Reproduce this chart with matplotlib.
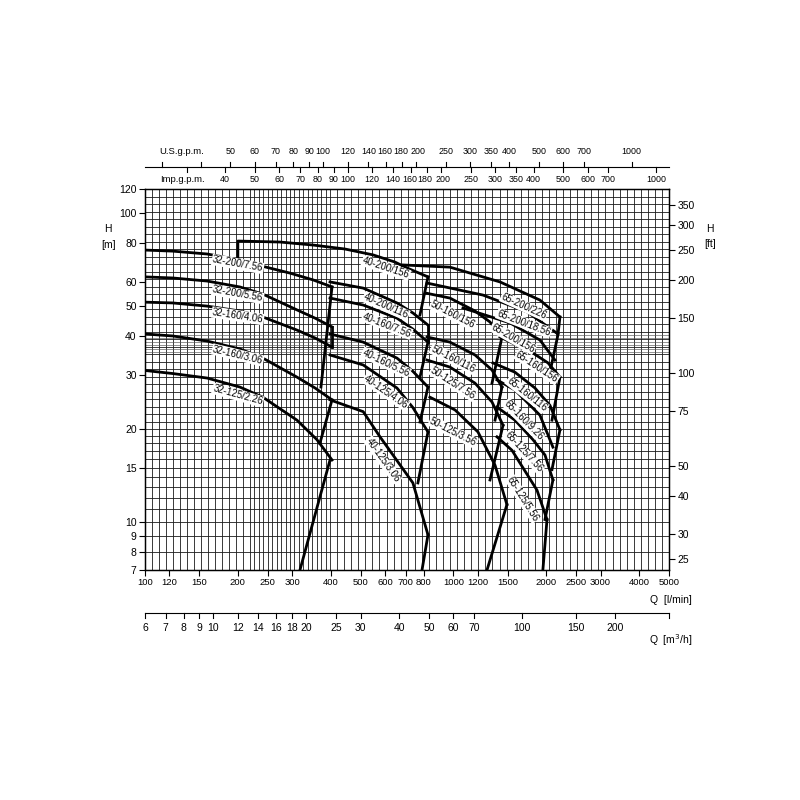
import numpy as np
import matplotlib.pyplot as plt
from matplotlib.ticker import NullLocator
from matplotlib.transforms import ScaledTranslation

plt.rcParams['font.family'] = ['Liberation Sans', 'DejaVu Sans']

# pump curves, Q in l/min, H in m
names32 = ["32-200/7.56", "32-200/5.56", "32-160/4.06", "32-160/3.06", "32-125/2.26"]
q32 = [[100, 123, 159, 203, 241, 295, 351, 404],
       [100, 123, 159, 203, 241, 311, 356, 404],
       [100, 123, 159, 203, 241, 311, 356, 404],
       [100, 123, 159, 203, 241, 311, 356, 404],
       [100, 123, 159, 203, 241, 311, 361, 404]]
h32 = [[76.1, 75.5, 73.9, 70.7, 67.4, 64.1, 60.9, 57.8],
       [62.3, 61.8, 60.4, 57.8, 54.8, 48.7, 45.8, 42.9],
       [51.6, 51.3, 50.1, 48.3, 46.2, 41.9, 39.5, 36.9],
       [40.7, 40.1, 38.6, 36.4, 34.0, 29.5, 27.2, 24.9],
       [31.0, 30.3, 29.3, 27.4, 25.4, 21.4, 18.5, 15.9]]

names40 = ["40-200/156", "40-200/116", "40-160/7.56", "40-160/5.56", "40-125/4.06", "40-125/3.06"]
q40 = [[200, 200, 274, 351, 445, 549, 646, 707, 827],
       [398, 510, 656, 739, 827],
       [398, 510, 656, 739, 827],
       [398, 510, 656, 739, 827],
       [398, 510, 656, 739, 827],
       [398, 510, 578, 739, 827]]
h40 = [[71.0, 81.4, 80.8, 79.0, 76.7, 73.4, 69.6, 66.6, 62.3],
       [60.0, 57.3, 51.3, 47.6, 43.5],
       [53.2, 50.5, 45.8, 42.2, 38.3],
       [40.7, 38.3, 34.0, 30.8, 27.4],
       [34.8, 32.3, 27.2, 23.5, 19.6],
       [24.9, 22.8, 18.9, 13.4, 9.1]]

names50 = ["50-160/156", "50-160/116", "50-125/7.56", "50-125/3.56"]
q50 = [[815, 974, 1175, 1314, 1437],
       [821, 974, 1175, 1334, 1437],
       [821, 974, 1175, 1334, 1448],
       [839, 1012, 1201, 1364, 1491]]
h50 = [[55.2, 53.2, 48.3, 44.5, 39.8],
       [39.8, 38.3, 34.8, 31.1, 27.4],
       [33.5, 31.8, 28.2, 24.5, 20.6],
       [25.4, 23.1, 19.6, 15.3, 11.4]]

names65 = ["65-200/226", "65-200/18.56", "65-200/156", "65-160/156",
           "65-160/116", "65-160/9.26", "65-125/7.56", "65-125/5.56"]
q65 = [[686, 974, 1416, 1908, 2215],
       [821, 1247, 1732, 2182],
       [1074, 1525, 1908, 2134],
       [1416, 1811, 2026, 2215],
       [1343, 1583, 1838, 2056, 2215],
       [1384, 1583, 1908, 2102],
       [1384, 1583, 1811, 1981, 2102],
       [1384, 1548, 1866, 2011]]
h65 = [[68.1, 67.0, 60.0, 52.4, 46.2],
       [59.5, 54.4, 48.0, 40.7],
       [49.4, 44.2, 38.9, 33.5],
       [39.8, 35.3, 32.8, 29.5],
       [32.8, 30.6, 27.2, 23.9, 19.9],
       [28.9, 26.8, 22.2, 17.5],
       [23.6, 21.4, 18.5, 16.5, 13.7],
       [18.9, 17.1, 12.7, 10.2]]

# boundary lines between the ranges
edge_q = [[404, 372], [404, 404], [404, 369], [398, 318],
          [827, 779], [827, 827], [827, 779], [827, 779], [827, 767], [827, 791],
          [1437, 1334], [1437, 1364], [1448, 1314], [1491, 1285],
          [2215, 2182, 2056], [2215, 2087], [2215, 2087], [2102, 1981], [2011, 1950]]
edge_h = [[57.8, 27.4], [42.9, 36.9], [24.9, 18.0], [15.9, 7.0],
          [62.3, 46.9], [43.5, 38.3], [38.3, 29.5], [27.4, 21.1], [19.6, 13.4], [9.1, 7.0],
          [39.8, 28.2], [27.4, 21.4], [20.6, 13.7], [11.4, 7.0],
          [46.2, 40.4, 30.6], [29.5, 21.4], [19.9, 14.8], [13.7, 10.2], [10.2, 7.0]]

# label anchors
lab32_q = [200, 200, 200, 200, 200]
lab32_h = [68.6, 54.8, 46.6, 34.8, 25.8]
lab40_q = [604, 604, 609, 604, 604, 591]
lab40_h = [66.6, 50.1, 43.5, 32.8, 26.4, 15.9]
lab50_q = [997, 997, 997, 997]
lab50_h = [46.9, 33.8, 28.2, 19.6]
lab65_q = [1693, 1693, 1560, 1866, 1732, 1693, 1693, 1681]
lab65_h = [50.1, 44.2, 39.5, 31.8, 26.0, 21.4, 16.9, 11.9]

q_ticks = [100, 120, 150, 200, 250, 300, 400, 500, 600, 700, 800, 1000, 1200, 1500,
           2000, 2500, 3000, 4000, 5000]
h_ticks = [7, 8, 9, 10, 15, 20, 30, 40, 50, 60, 80, 100, 120]
ft_ticks = [25, 30, 40, 50, 75, 100, 150, 200, 250, 300, 350]
us_ticks = [30, 40, 50, 60, 70, 80, 90, 100, 120, 140, 160, 180, 200, 250, 300, 350,
            400, 500, 600, 700, 1000]
imp_ticks = [30, 40, 50, 60, 70, 80, 90, 100, 120, 140, 160, 180, 200, 250, 300, 350,
             400, 500, 600, 700, 1000]
m3h_ticks = [6, 7, 8, 9, 10, 12, 14, 16, 18, 20, 25, 30, 40, 50, 60, 70, 100, 150, 200, 300]

L_US = 3.78541
L_IMP = 4.54609
M_FT = 3.28084
FS = 7.5
FS_SMALL = 6.8
FS_TOP = 6.4
nudge = {160: -1.0, 180: -1.5, 200: 2.0}  # px, keeps crowded top labels apart

fig = plt.figure(figsize=(8, 8), dpi=100)
ax = fig.add_axes([145 / 800, 1 - 570 / 800, 524 / 800, 381 / 800])
ax.set_xscale('log')
ax.set_yscale('log')
ax.set_xlim(100, 5000)
ax.set_ylim(7, 120)

# background grid
qg = np.concatenate([np.geomspace(100, 219, 16), np.geomspace(219, 398, 19)[1:],
                     np.geomspace(398, 5000, 49)[1:]])
hg = np.concatenate([np.arange(7, 20, 1.0), np.geomspace(20, 120, 33)])
hg_dense = np.geomspace(35.5, 40.5, 6)
ax.vlines(qg, 7, 120, colors='#1a1a1a', lw=0.6, zorder=1)
ax.hlines(hg, 100, 5000, colors='#1a1a1a', lw=0.6, zorder=1)
ax.hlines(hg_dense, 100, 5000, colors='#555555', lw=0.45, zorder=1)

for qs, hs in [(q32, h32), (q40, h40), (q50, h50), (q65, h65)]:
    for q, h in zip(qs, hs):
        ax.plot(q, h, color='k', lw=2.0, solid_joinstyle='round', zorder=3)
for q, h in zip(edge_q, edge_h):
    ax.plot(q, h, color='k', lw=2.0, solid_joinstyle='round', zorder=3)

def slope_angle(q, h, x):
    pts = ax.transData.transform(np.column_stack([q, h]))
    xd = ax.transData.transform((x, h[0]))[0]
    i = np.searchsorted(pts[:, 0], xd) - 1
    i = min(max(i, 0), len(q) - 2)
    d = pts[i + 1] - pts[i]
    return np.degrees(np.arctan2(d[1], d[0]))

for names, qs, hs, lq, lh in [(names32, q32, h32, lab32_q, lab32_h),
                              (names40, q40, h40, lab40_q, lab40_h),
                              (names50, q50, h50, lab50_q, lab50_h),
                              (names65, q65, h65, lab65_q, lab65_h)]:
    for n, q, h, x, y in zip(names, qs, hs, lq, lh):
        qq = q[1:] if q[0] == q[1] else q
        hh = h[1:] if q[0] == q[1] else h
        ang = slope_angle(qq, hh, x)
        ax.text(x, y, n, fontsize=6.9, rotation=ang, rotation_mode='anchor',
                ha='center', va='center', zorder=4,
                bbox=dict(facecolor='white', edgecolor='none', pad=0.5))

# main ticks
ax.xaxis.set_minor_locator(NullLocator())
ax.yaxis.set_minor_locator(NullLocator())
ax.set_xticks(q_ticks)
ax.set_xticklabels([str(v) for v in q_ticks], fontsize=FS_SMALL)
ax.set_yticks(h_ticks)
ax.set_yticklabels([str(v) for v in h_ticks], fontsize=FS)
ax.tick_params(direction='out', length=4, width=0.8, pad=2)
for s in ax.spines.values():
    s.set_linewidth(1.0)

axr = ax.twinx()
axr.set_yscale('log')
axr.set_ylim(7 * M_FT, 120 * M_FT)
axr.yaxis.set_minor_locator(NullLocator())
axr.set_yticks(ft_ticks)
axr.set_yticklabels([str(v) for v in ft_ticks], fontsize=FS)
axr.tick_params(direction='out', length=4, width=0.8, pad=2)

trans = ax.get_xaxis_transform()

def shifted(v):
    return trans + ScaledTranslation(nudge.get(v, 0) / 100, 0, fig.dpi_scale_trans)

# top: U.S. and Imp. gallons per minute
y_top = (570 - 167) / 381
tk = 5 / 381
ax.plot([100, 5000], [y_top, y_top], transform=trans, color='k', lw=0.8, clip_on=False)
for v in us_ticks:
    q = v * L_US
    ax.plot([q, q], [y_top, y_top + tk], transform=trans, color='k', lw=0.8, clip_on=False)
    if v >= 50:
        ax.text(q, (570 - 151) / 381, str(v), transform=shifted(v), ha='center',
                va='center', fontsize=FS_TOP)
for v in imp_ticks:
    q = v * L_IMP
    ax.plot([q, q], [y_top, y_top - tk], transform=trans, color='k', lw=0.8, clip_on=False)
    if v >= 40:
        ax.text(q, (570 - 180) / 381, str(v), transform=shifted(v), ha='center',
                va='center', fontsize=FS_TOP)
ax.text((182 - 145) / 524, (570 - 151) / 381, 'U.S.g.p.m.', transform=ax.transAxes,
        ha='center', va='center', fontsize=FS_SMALL)
ax.text((182 - 145) / 524, (570 - 180) / 381, 'Imp.g.p.m.', transform=ax.transAxes,
        ha='center', va='center', fontsize=FS_SMALL)

# bottom: m3/h
y_bot = (570 - 613) / 381
ax.plot([100, 5000], [y_bot, y_bot], transform=trans, color='k', lw=0.8, clip_on=False)
for v in m3h_ticks:
    q = v * 1000 / 60
    ax.plot([q, q], [y_bot, y_bot - tk], transform=trans, color='k', lw=0.8, clip_on=False)
    if v < 300:
        ax.text(q, (570 - 628) / 381, str(v), transform=trans, ha='center', va='center',
                fontsize=FS)

ax.text((692 - 145) / 524, (570 - 600) / 381, 'Q  [l/min]', transform=ax.transAxes,
        ha='right', va='center', fontsize=FS)
ax.text((692 - 145) / 524, (570 - 640) / 381, 'Q  [m$^3$/h]', transform=ax.transAxes,
        ha='right', va='center', fontsize=FS)
ax.text((108 - 145) / 524, (570 - 229) / 381, 'H', transform=ax.transAxes,
        ha='center', va='center', fontsize=FS)
ax.text((109 - 145) / 524, (570 - 245) / 381, '[m]', transform=ax.transAxes,
        ha='center', va='center', fontsize=FS)
ax.text((710 - 145) / 524, (570 - 229) / 381, 'H', transform=ax.transAxes,
        ha='center', va='center', fontsize=FS)
ax.text((710 - 145) / 524, (570 - 244) / 381, '[ft]', transform=ax.transAxes,
        ha='center', va='center', fontsize=FS)

fig.savefig('out.png', dpi=100, facecolor='white')
